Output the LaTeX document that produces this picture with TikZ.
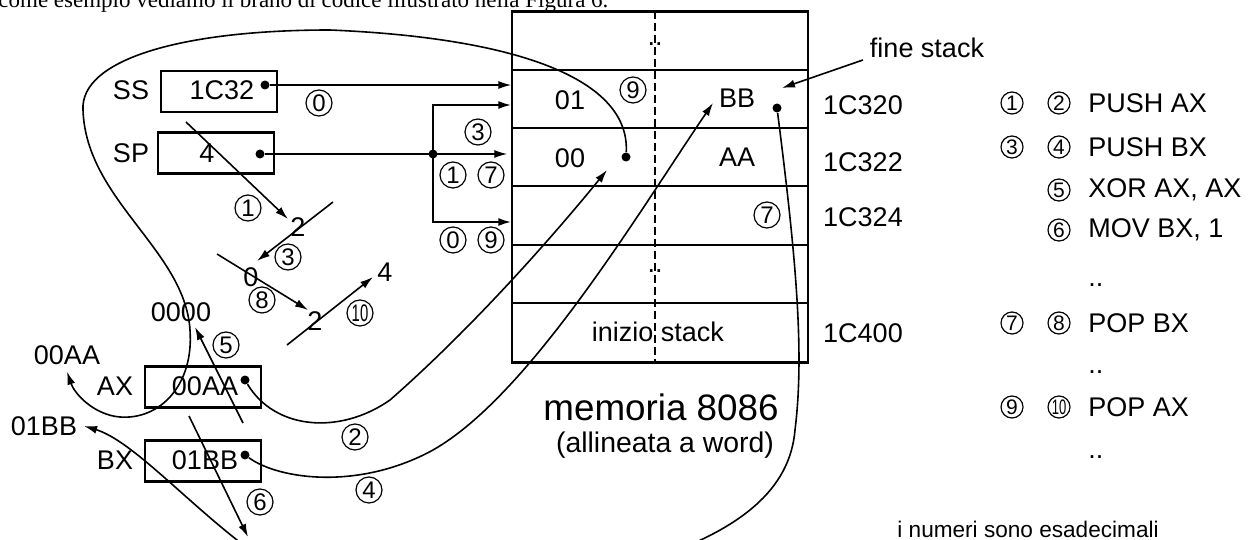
\documentclass[tikz,border=0pt]{standalone}
\usepackage{fontspec}
\setmainfont{Liberation Sans}
\newfontfamily\introfont{Liberation Serif}
\usetikzlibrary{arrows.meta, positioning, calc}

\tikzset{
  reg/.style={draw, line width=1.3pt, minimum width=58pt, minimum height=20.5pt, inner sep=0pt},
  cnum/.style={circle, draw, line width=0.6pt, inner sep=0pt, minimum size=13pt, font=\fontsize{12}{12}\selectfont},
  lnum/.style={cnum, minimum size=11pt, font=\fontsize{10.5}{10}\selectfont},
  arr/.style={line width=0.8pt, -{Latex[length=6.5pt, width=4pt]}},
  pdot/.style={circle, fill, inner sep=0pt, minimum size=4.5pt},
  cmd/.style={anchor=west, inner sep=0pt},
}
\newcommand{\numdieci}{\scalebox{0.62}[1]{10}}

\begin{document}
\begin{tikzpicture}[x=0.5pt, y=-0.5pt, every node/.style={font=\fontsize{13.5}{16}\selectfont}]
  \useasboundingbox (0,0) rectangle (1252,540);
  \clip (0,0) rectangle (1252,540);

  % testo (riga tagliata in alto)
  \node[anchor=base west, inner sep=0pt, font=\introfont\fontsize{11.5}{14}\selectfont] (intro) at (-2,7.3)
    {come esempio vediamo il brano di codice illustrato nella Figura 6.};

  % Registri
  \node[reg] (ss) at (219,91.5) {};
  \node[reg] (sp) at (216,153) {};
  \node[reg] (ax) at (203,387) {};
  \node[reg] (bx) at (203,461) {};
  \node (sslbl) at (131,90) {SS};
  \node (splbl) at (131,153) {SP};
  \node (axlbl) at (115,386) {AX};
  \node (bxlbl) at (115,460) {BX};
  \node (ssval) at (222,90) {1C32};
  \node (spval) at (207,153) {4};
  \node (axval) at (205,386) {00AA};
  \node (bxval) at (205,460) {01BB};
  \node[pdot] (ssdot) at (265,85) {};
  \node[pdot] (spdot) at (260,154) {};
  \node[pdot] (axdot) at (245,380) {};
  \node[pdot] (bxdot) at (245,455) {};

  % Memoria
  \node[draw, line width=0.6pt, minimum width=148pt, minimum height=175pt, inner sep=0pt] (mem) at (660,187) {};
  \draw[line width=1.1pt] (mem.north west) -- (mem.north east);
  \draw[line width=1.1pt] (mem.south west) -- (mem.south east);
  \foreach \y/\w in {70/1.1pt, 128/0.6pt, 186/1.1pt, 245/1.1pt, 303/0.6pt}
    \draw[line width=\w] (mem.west |- 0,\y) -- (mem.east |- 0,\y);
  \draw[line width=1pt, dash pattern=on 4pt off 2pt] (mem.north -| 655,0) -- (mem.south -| 655,0);
  \node (hi1) at (570,100) {01};
  \node (lo1) at (737,98) {BB};
  \node (hi2) at (570,158) {00};
  \node (lo2) at (737,157) {AA};
  \node (more1) at (655,44) {..};
  \node (more2) at (655,271) {..};
  \node (inizio) at (658,332) {inizio stack};
  \node[pdot] (d00) at (626,157) {};
  \node[pdot] (dBB) at (777,108) {};
  \foreach \y/\a in {105/1C320, 162/1C322, 217/1C324, 333/1C400}
    \node at (863,\y) {\a};
  \node[font=\fontsize{18.4}{20}\selectfont] (memt) at (661,407) {memoria 8086};
  \node[font=\fontsize{14.2}{16}\selectfont] (memst) at (665,445) {(allineata a word)};
  \node (fine) at (927,48) {fine stack};
  \coordinate (fstip) at (782,88);
  \draw[arr] ([yshift=-6pt]fine.west) -- (fstip);

  % SS e SP verso la memoria
  \draw[arr] (ssdot) -- (ssdot -| mem.west);
  \node[pdot] (jn) at (433,154) {};
  \coordinate (sp0) at (mem.west |- 0,105);
  \coordinate (sp2) at (mem.west |- 0,154);
  \coordinate (sp4) at (mem.west |- 0,222);
  \draw[arr] (spdot) -- ([xshift=-2pt]sp2);
  \draw[arr, line width=1.1pt] (jn.center) |- (sp0);
  \draw[arr, line width=1.1pt] (jn.center) |- (sp4);

  % valori di SP
  \node (v2a) at (298,227) {2};
  \node (v0) at (251,277) {0};
  \node (v2b) at (315,321) {2};
  \node (v4) at (385,272) {4};
  \node (zero) at (181,312) {0000};
  \node (axold) at (67,355) {00AA};
  \node (bxold) at (44,426) {01BB};
  \coordinate (s1a) at (186,122);  \coordinate (s1b) at (288,219);
  \coordinate (s3a) at (333,202);  \coordinate (s3b) at (257,261);
  \coordinate (s8a) at (217,254);  \coordinate (s8b) at (308,310);
  \coordinate (s10a) at (287,345); \coordinate (s10b) at (373,277);
  \coordinate (s5a) at (243,423);  \coordinate (s5b) at (195,327);
  \coordinate (s6a) at (189,416);  \coordinate (s6b) at (248,537);
  \foreach \a/\b in {s1a/s1b, s3a/s3b, s8a/s8b, s10a/s10b, s5a/s5b, s6a/s6b}
    \draw[arr] (\a) -- (\b);

  % push e pop
  \coordinate (pa) at (607,170);
  \coordinate (pb) at (713,103);
  \draw[arr] (axdot) .. controls (275,430) and (340,435) .. (390,400)
    .. controls (470,330) and (550,240) .. (pa);
  \draw[arr] (bxdot) .. controls (280,480) and (360,490) .. (433,450)
    .. controls (530,395) and (640,210) .. (pb);
  \draw[arr] (dBB) .. controls (795,250) and (805,350) .. (795,430)
    .. controls (790,490) and (740,530) .. (650,560)
    .. controls (500,620) and (300,590) .. (237,540)
    .. controls (180,495) and (130,440) .. (bxold.east);
  \draw[arr] (d00) .. controls (630,80) and (520,38) .. (330,30)
    .. controls (180,30) and (80,60) .. (83,110)
    .. controls (86,200) and (185,250) .. (190,330)
    .. controls (194,385) and (160,420) .. (120,417)
    .. controls (95,415) and (75,395) .. (axold.south);

  % numeri cerchiati
  \node[cnum] (k0a) at (319,103) {0};
  \node[cnum] (k1a) at (248,208) {1};
  \node[cnum] (k3a) at (288,257) {3};
  \node[cnum] (k8) at (262,300) {8};
  \node[cnum] (k10) at (360,313) {\numdieci};
  \node[cnum] (k5) at (226,345) {5};
  \node[cnum] (k6) at (260,502) {6};
  \node[cnum] (k2) at (355,437) {2};
  \node[cnum] (k4) at (369,490) {4};
  \node[cnum] (k9a) at (633,90) {9};
  \node[cnum] (k7a) at (767,215) {7};
  \node[cnum] (k3b) at (478,132) {3};
  \node[cnum] (k1b) at (453,175) {1};
  \node[cnum] (k7b) at (491,175) {7};
  \node[cnum] (k0b) at (453,240) {0};
  \node[cnum] (k9b) at (491,240) {9};

  % istruzioni
  \foreach \y/\a/\b/\t in {103/1/2/PUSH AX, 147/3/4/PUSH BX, 323/7/8/POP BX}{
    \node[lnum] at (1012,\y) {\a};
    \node[lnum] at (1059,\y) {\b};
    \node[cmd] at (1088,\y) {\t};
  }
  \node[lnum] at (1059,190) {5};
  \node[cmd] at (1088,190) {XOR AX, AX};
  \node[lnum] at (1059,230) {6};
  \node[cmd] at (1088,230) {MOV BX, 1};
  \node[lnum] at (1012,407) {9};
  \node[lnum] at (1059,407) {\numdieci};
  \node[cmd] at (1088,407) {POP AX};
  \foreach \y in {285,372,457}
    \node[cmd] at (1088,\y) {..};
  \node[anchor=base west, inner sep=0pt, font=\fontsize{11.3}{13}\selectfont] (nota) at (897,537) {i numeri sono esadecimali};
\end{tikzpicture}
\end{document}
